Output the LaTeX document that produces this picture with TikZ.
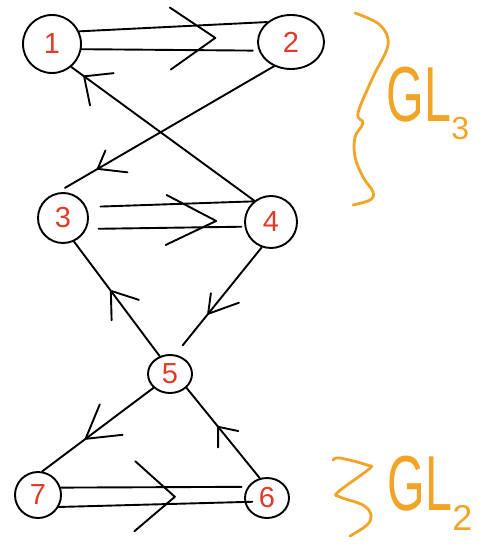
\documentclass[tikz,border=0pt]{standalone}
\usepackage{fontspec}
\setmainfont{Liberation Sans}
\usetikzlibrary{shapes.geometric,decorations.markings,calc}
\definecolor{hand}{RGB}{242,164,38}
\definecolor{numred}{RGB}{226,58,40}
\begin{document}
\begin{tikzpicture}[x=1pt,y=-1pt,
  line width=1.9pt, line cap=round, line join=round,
  vtx/.style={draw, circle, inner sep=0pt, minimum size=#1, text=numred, font=\fontsize{29}{29}\selectfont},
  vell/.style n args={2}{draw, ellipse, inner sep=0pt, minimum width=#1, minimum height=#2, text=numred, font=\fontsize{29}{29}\selectfont},
  barb/.style n args={3}{postaction={decorate,decoration={markings,mark=at position #1 with {\draw (-#2pt,#3pt) -- (0pt,0pt) -- (-#2pt,-#3pt);}}}},
  brace/.style={draw=hand, line width=2.8pt},
  glab/.style={text=hand, anchor=base west, inner sep=0pt, font=\fontsize{78}{78}\selectfont}
]
\useasboundingbox (0,0) rectangle (492,548);
% vertices
\node[vtx=58pt] (n1) at (52,44) {1};
\node[vell={66pt}{54pt}] (n2) at (291,42) {2};
\node[vtx=50pt] (n3) at (63,218) {3};
\node[vtx=52pt] (n4) at (271,222) {4};
\node[vell={44pt}{38pt}] (n5) at (170,374) {5};
\node[vtx=46pt] (n7) at (38,495) {7};
\node[vell={44pt}{40pt}] (n6) at (267,498) {6};
% 1 => 2 (double)
\draw (n1.25) -- (n2.140);
\draw[shorten >=6pt] (n1.-10) -- (n2.195);
\path[barb={0.76}{45}{31}] (n1.8) -- (n2.172);
% 2 -> 3
\draw[shorten >=10pt, barb={0.81}{24}{18}] (n2.235) -- (n3.105);
% 4 -> 1
\draw[barb={0.93}{22}{20}] (n4.128) -- (n1.-50);
% 3 => 4 (double)
\draw[shorten <=14pt] (n3.25) -- (n4.130);
\draw[shorten <=12pt, shorten >=3pt] (n3.-25) -- (n4.190);
\path[barb={0.82}{50}{25}] (n3) -- (n4);
% 4 -> 5
\draw[shorten >=12pt, barb={0.62}{28}{17}] (n4.-110) -- (n5.75);
% 5 -> 3
\draw[barb={0.57}{24}{17}] (n5.120) -- (n3.-65);
% 5 -> 7
\draw[barb={0.61}{32}{19}] (n5.220) -- (n7.80);
% 6 -> 5
\draw[barb={0.57}{16}{13}] (n6.110) -- (n5.-40);
% 7 => 6 (double)
\draw[shorten >=6pt] (n7.18) -- (n6.150);
\draw[shorten >=-8pt] (n7.-30) -- (n6.190);
\path[barb={0.62}{40}{35}] (n7) -- (n6);
% braces and labels
\draw[brace] plot[smooth, tension=0.6] coordinates {(355,13) (380,25) (388,45) (373,77) (358,113) (363,123) (355,137) (355,157) (363,177) (373,192) (370,200) (353,205)};
\node[glab] (gl3) at (386,122) {\scalebox{0.62}[1]{GL}\raisebox{-18pt}{\fontsize{32}{32}\selectfont 3}};
\draw[brace] plot[smooth, tension=0.6] coordinates {(333,460) (340,458) (367,465) (369,469) (338,492) (340,497) (363,505) (371,515) (367,525) (350,536)};
\node[glab] (gl2) at (387,510) {\scalebox{0.62}[1]{GL}\raisebox{-20pt}{\fontsize{36}{36}\selectfont 2}};
\end{tikzpicture}
\end{document}
